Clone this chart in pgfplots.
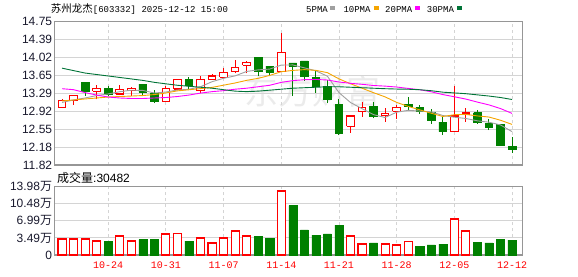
\documentclass[border=0pt]{standalone}
\usepackage{pgfplots}
\pgfplotsset{compat=1.18}
\usepackage{fontspec}
\setmainfont{Liberation Sans}
\newfontfamily\cjk{Noto Sans CJK SC}
\newfontfamily\mono{Liberation Mono}
\definecolor{upred}{RGB}{255,0,0}
\definecolor{dngreen}{RGB}{0,128,0}
\definecolor{ma5}{RGB}{160,160,160}
\definecolor{ma10}{RGB}{245,165,0}
\definecolor{ma20}{RGB}{255,0,255}
\definecolor{ma30}{RGB}{0,115,55}
\definecolor{gridc}{RGB}{212,212,212}
\definecolor{framec}{RGB}{150,150,150}
\definecolor{tickc}{RGB}{25,25,45}

% i, open, high, low, close
\newcommand{\candleup}[5]{%
  \pgfmathsetmacro{\xl}{#1-0.33}\pgfmathsetmacro{\xr}{#1+0.33}%
  \edef\doit{%
    \noexpand\addplot[upred, line width=1pt] coordinates {(#1,#4)(#1,#2)};
    \noexpand\addplot[upred, line width=1pt] coordinates {(#1,#5)(#1,#3)};
    \noexpand\addplot[draw=upred, fill=white, line width=1.1pt] coordinates {(\xl,#2)(\xr,#2)(\xr,#5)(\xl,#5)(\xl,#2)};
  }\doit}
\newcommand{\candledn}[5]{%
  \pgfmathsetmacro{\xl}{#1-0.33}\pgfmathsetmacro{\xr}{#1+0.33}%
  \edef\doit{%
    \noexpand\addplot[dngreen, line width=1pt] coordinates {(#1,#4)(#1,#3)};
    \noexpand\addplot[draw=dngreen, fill=dngreen, line width=0.6pt] coordinates {(\xl,#2)(\xr,#2)(\xr,#5)(\xl,#5)(\xl,#2)};
  }\doit}

\pgfplotsset{kstyle/.style={
  scale only axis, width=468pt, xmin=-0.67, xmax=39.89,
  axis line style={framec, line width=1.2pt},
  major tick length=0pt,
  xtick={4,9,14,19,24,29,34,39},
  xmajorgrids, ymajorgrids,
  x grid style={gridc, line width=0.8pt, dash pattern=on 3pt off 3pt},
  y grid style={gridc, line width=0.9pt},
  yticklabel style={anchor=east, inner sep=0pt, xshift=-2pt, text=tickc, font=\fontsize{12}{14}\selectfont},
}}

\begin{document}
\begin{tikzpicture}
\useasboundingbox (0,0) rectangle (578pt,276pt);
\node[text=gray!16] at (312pt,185pt) {\cjk\fontsize{34}{34}\selectfont 东方财富};

\begin{axis}[kstyle, at={(54.3pt,111pt)}, anchor=south west, height=143.3pt,
  ymin=11.82, ymax=14.75,
  ytick={11.82,12.18625,12.5525,12.91875,13.285,13.65125,14.0175,14.38375,14.75},
  yticklabels={11.82,12.18,12.55,12.92,13.29,13.65,14.02,14.39,14.75},
  xticklabels={}]
\candleup{0}{13.00}{13.16}{13.00}{13.135}
\candleup{1}{13.135}{13.24}{13.05}{13.237}
\candledn{2}{13.517}{13.52}{13.237}{13.333}
\candleup{3}{13.326}{13.448}{13.16}{13.387}
\candledn{4}{13.394}{13.44}{13.237}{13.271}
\candleup{5}{13.271}{13.448}{13.271}{13.367}
\candleup{6}{13.339}{13.407}{13.237}{13.387}
\candledn{7}{13.476}{13.48}{13.237}{13.312}
\candledn{8}{13.285}{13.353}{13.087}{13.121}
\candleup{9}{13.121}{13.435}{13.121}{13.388}
\candleup{10}{13.373}{13.571}{13.373}{13.571}
\candledn{11}{13.575}{13.622}{13.353}{13.458}
\candleup{12}{13.343}{13.639}{13.285}{13.571}
\candleup{13}{13.571}{13.690}{13.571}{13.639}
\candleup{14}{13.612}{13.800}{13.605}{13.718}
\candleup{15}{13.725}{13.966}{13.694}{13.816}
\candleup{16}{13.857}{13.953}{13.694}{13.919}
\candledn{17}{14.025}{14.03}{13.646}{13.728}
\candledn{18}{13.844}{13.844}{13.630}{13.724}
\candleup{19}{13.728}{14.52}{13.728}{14.127}
\candledn{20}{13.906}{13.906}{13.23}{13.837}
\candledn{21}{13.95}{13.95}{13.543}{13.626}
\candledn{22}{13.616}{13.735}{13.298}{13.428}
\candledn{23}{13.428}{13.556}{13.08}{13.17}
\candledn{24}{13.067}{13.16}{12.433}{12.46}
\candleup{25}{12.61}{12.835}{12.48}{12.821}
\candleup{26}{12.917}{13.107}{12.807}{12.998}
\candledn{27}{13.026}{13.107}{12.773}{12.807}
\candleup{28}{12.835}{12.99}{12.705}{12.876}
\candleup{29}{12.917}{13.046}{12.766}{12.998}
\candledn{30}{13.067}{13.21}{12.944}{13.012}
\candledn{31}{13.005}{13.053}{12.869}{12.923}
\candledn{32}{12.889}{12.964}{12.664}{12.726}
\candledn{33}{12.698}{12.807}{12.439}{12.501}
\candleup{34}{12.501}{13.435}{12.501}{12.821}
\candleup{35}{12.855}{12.985}{12.705}{12.883}
\candledn{36}{12.889}{12.944}{12.664}{12.685}
\candledn{37}{12.664}{12.76}{12.535}{12.583}
\candledn{38}{12.651}{12.651}{12.221}{12.221}
\candledn{39}{12.208}{12.398}{12.07}{12.14}
% 5PMA
\addplot[ma5, line width=0.9pt] coordinates {(0,13.10)(1,13.15)(2,13.19)(3,13.24)(4,13.273)(5,13.319)(6,13.349)(7,13.345)(8,13.292)(9,13.312)(10,13.353)(11,13.368)(12,13.420)(13,13.523)(14,13.593)(15,13.642)(16,13.733)(17,13.765)(18,13.781)(19,13.863)(20,13.866)(21,13.807)(22,13.746)(23,13.635)(24,13.300)(25,13.098)(26,12.972)(27,12.850)(28,12.791)(29,12.900)(30,12.938)(31,12.923)(32,12.907)(33,12.832)(34,12.797)(35,12.771)(36,12.723)(37,12.695)(38,12.639)(39,12.502)};
% 10PMA
\addplot[ma10, line width=0.9pt] coordinates {(0,13.13)(1,13.15)(2,13.17)(3,13.19)(4,13.21)(5,13.22)(6,13.23)(7,13.24)(8,13.26)(9,13.292)(10,13.336)(11,13.358)(12,13.382)(13,13.407)(14,13.452)(15,13.497)(16,13.551)(17,13.592)(18,13.652)(19,13.728)(20,13.754)(21,13.770)(22,13.755)(23,13.708)(24,13.581)(25,13.482)(26,13.390)(27,13.298)(28,13.213)(29,13.100)(30,13.018)(31,12.948)(32,12.878)(33,12.812)(34,12.848)(35,12.855)(36,12.823)(37,12.801)(38,12.735)(39,12.650)};
% 20PMA
\addplot[ma20, line width=0.9pt] coordinates {(0,13.38)(1,13.36)(2,13.30)(3,13.25)(4,13.21)(5,13.19)(6,13.18)(7,13.18)(8,13.19)(9,13.20)(10,13.22)(11,13.25)(12,13.29)(13,13.32)(14,13.34)(15,13.37)(16,13.39)(17,13.42)(18,13.45)(19,13.510)(20,13.545)(21,13.564)(22,13.569)(23,13.558)(24,13.517)(25,13.490)(26,13.470)(27,13.445)(28,13.433)(29,13.414)(30,13.386)(31,13.359)(32,13.317)(33,13.260)(34,13.215)(35,13.168)(36,13.106)(37,13.049)(38,12.974)(39,12.875)};
% 30PMA
\addplot[ma30, line width=0.9pt] coordinates {(0,13.80)(1,13.75)(2,13.70)(3,13.67)(4,13.64)(5,13.61)(6,13.58)(7,13.55)(8,13.51)(9,13.48)(10,13.45)(11,13.43)(12,13.41)(13,13.39)(14,13.36)(15,13.33)(16,13.32)(17,13.33)(18,13.35)(19,13.37)(20,13.39)(21,13.40)(22,13.41)(23,13.42)(24,13.42)(25,13.41)(26,13.40)(27,13.39)(28,13.38)(29,13.373)(30,13.369)(31,13.359)(32,13.339)(33,13.309)(34,13.294)(35,13.278)(36,13.254)(37,13.230)(38,13.200)(39,13.159)};
\end{axis}

\begin{axis}[kstyle, at={(54.3pt,21pt)}, anchor=south west, height=68.3pt,
  ymin=0, ymax=13.98,
  ytick={0,3.495,6.99,10.485,13.98},
  yticklabels={0,{3.49{\cjk 万}},{6.99{\cjk 万}},{10.48{\cjk 万}},{13.98{\cjk 万}}},
  xticklabels={10-24,10-31,11-07,11-14,11-21,11-28,12-05,12-12},
  xticklabel style={anchor=north, inner sep=0pt, yshift=-6.5pt, text=upred, font=\mono\fontsize{10}{12}\selectfont}]
\addplot[ybar, bar width=0.7, bar shift=0pt, draw=upred, fill=white, line width=1.1pt] coordinates {(0,3.27)(1,3.27)(2,3.27)(3,2.86)(5,3.89)(6,2.86)(9,4.30)(10,4.43)(12,3.48)(13,2.46)(14,3.48)(15,4.91)(16,3.89)(19,13.09)(25,3.89)(26,2.25)(28,2.25)(29,2.05)(30,2.80)(34,7.37)(35,4.91)};
\addplot[ybar, bar width=0.7, bar shift=0pt, draw=dngreen, fill=dngreen, line width=0.5pt] coordinates {(4,2.86)(7,3.14)(8,3.14)(11,2.86)(17,3.75)(18,3.34)(20,10.1)(21,5.12)(22,4.09)(23,4.30)(24,6.14)(27,2.46)(31,1.84)(32,2.05)(33,2.25)(36,2.66)(37,2.46)(38,3.27)(39,3.05)};
\end{axis}

% title and legend
\node[anchor=base west, inner sep=0pt] at (50.7pt,263.7pt) {{\cjk\fontsize{10.5}{12}\selectfont 苏州龙杰}{\mono\fontsize{9}{11}\selectfont[603332] 2025-12-12 15:00}};
\node[anchor=base west, inner sep=0pt] at (306pt,263.7pt) {\mono\fontsize{9}{11}\selectfont 5PMA};
\node[anchor=base west, inner sep=0pt] at (343.3pt,263.7pt) {\mono\fontsize{9}{11}\selectfont 10PMA};
\node[anchor=base west, inner sep=0pt] at (385pt,263.7pt) {\mono\fontsize{9}{11}\selectfont 20PMA};
\node[anchor=base west, inner sep=0pt] at (426.7pt,263.7pt) {\mono\fontsize{9}{11}\selectfont 30PMA};
\node[inner sep=0pt] at (332.5pt,267.7pt) {\textcolor{ma5}{\rule{5pt}{4pt}}};
\node[inner sep=0pt] at (376.2pt,267.7pt) {\textcolor{ma10}{\rule{5pt}{4pt}}};
\node[inner sep=0pt] at (417.5pt,267.7pt) {\textcolor{ma20}{\rule{5pt}{4pt}}};
\node[inner sep=0pt] at (459.7pt,267.7pt) {\textcolor{ma30}{\rule{5pt}{4pt}}};
\node[anchor=west, inner sep=0pt] at (57pt,98.3pt) {{\cjk\fontsize{12}{14}\selectfont 成交量}{\fontsize{12}{14}\selectfont :30482}};
\end{tikzpicture}
\end{document}
